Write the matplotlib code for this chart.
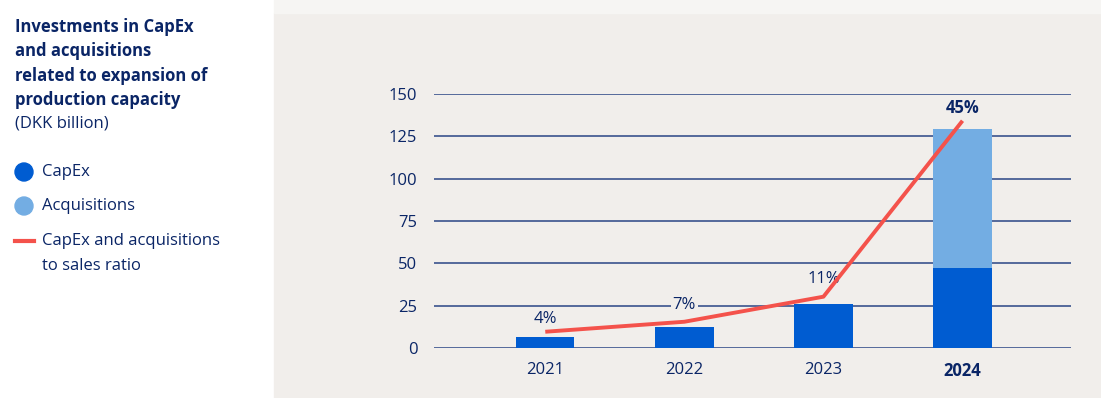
import matplotlib.pyplot as plt
from matplotlib.patches import Rectangle, Circle
from matplotlib.lines import Line2D

plt.rcParams['font.family'] = ['Open Sans', 'Noto Sans', 'DejaVu Sans']

# data
years = ['2021', '2022', '2023', '2024']
capex = [6.5, 12.4, 26, 47.2]
acquisitions = [0, 0, 0, 82.1]
ratio_line = [9.6, 15.5, 30.3, 134.2]   # line height
ratio_labels = ['4%', '7%', '11%', '45%']
label_y = [17.4, 25.1, 41, 141.5]

navy = '#0a2566'
c_capex = '#005cd1'
c_acq = '#73ade3'
c_line = '#f4524b'
bg = '#f1eeeb'

fig = plt.figure(figsize=(11.01, 3.98), dpi=100)
W, H = 1101, 398

# background panel
fig.patches.append(Rectangle((274 / W, 0), 1 - 274 / W, (H - 13) / H,
                             transform=fig.transFigure, color=bg, zorder=-2))
fig.patches.append(Rectangle((274 / W, (H - 13) / H), 1 - 274 / W, 13 / H,
                             transform=fig.transFigure, color='#f6f5f3', zorder=-2))

ax = fig.add_axes([434 / W, (H - 348) / H, (1071 - 434) / W, (348 - 94) / H])
ax.set_facecolor('none')

x = range(len(years))
ax.bar(x, capex, width=0.42, color=c_capex, zorder=2)
ax.bar(x, acquisitions, width=0.42, bottom=capex, color=c_acq, zorder=2)
ax.plot(x, ratio_line, color=c_line, lw=2.8, zorder=3, solid_capstyle='butt')

for i, (lab, yy) in enumerate(zip(ratio_labels, label_y)):
    ax.text(i, yy, lab, ha='center', va='center', fontsize=12, color=navy,
            fontweight='bold' if i == 3 else 'normal', zorder=2.5,
            bbox=dict(facecolor=bg, edgecolor='none', pad=1.5))

ax.set_xlim(-0.8, 3.78)
ax.set_ylim(0, 150)
ax.set_yticks([0, 25, 50, 75, 100, 125, 150])
ax.set_xticks(list(x))
ax.set_xticklabels(years)
ax.xaxis.get_ticklabels()[-1].set_fontweight('bold')
ax.tick_params(length=0, labelsize=12, labelcolor=navy)
ax.tick_params(axis='y', pad=12)
ax.tick_params(axis='x', pad=10)
ax.grid(axis='y', color='#2a4585', lw=1.1, zorder=1)
for s in ax.spines.values():
    s.set_visible(False)

# title and legend on the left
title = ['Investments in CapEx', 'and acquisitions',
         'related to expansion of', 'production capacity']
for k, t in enumerate(title):
    fig.text(15 / W, 1 - (27 + k * 24.3) / H, t, fontsize=12, fontweight='bold',
             color=navy, va='center', ha='left')
fig.text(15 / W, 1 - 124 / H, '(DKK billion)', fontsize=12, color=navy,
         va='center', ha='left')

for yy, col, lab in [(172, c_capex, 'CapEx'), (206, c_acq, 'Acquisitions')]:
    fig.patches.append(Circle((24, H - yy), 9, transform=None, color=col))
    fig.text(42 / W, 1 - yy / H, lab, fontsize=12, color=navy,
             va='center', ha='left')
fig.lines.append(Line2D([15 / W, 34 / W], [1 - 241 / H, 1 - 241 / H],
                        transform=fig.transFigure, color=c_line, lw=3))
fig.text(42 / W, 1 - 241 / H, 'CapEx and acquisitions', fontsize=12,
         color=navy, va='center', ha='left')
fig.text(42 / W, 1 - 266 / H, 'to sales ratio', fontsize=12, color=navy,
         va='center', ha='left')

fig.savefig('out.png', dpi=100)
